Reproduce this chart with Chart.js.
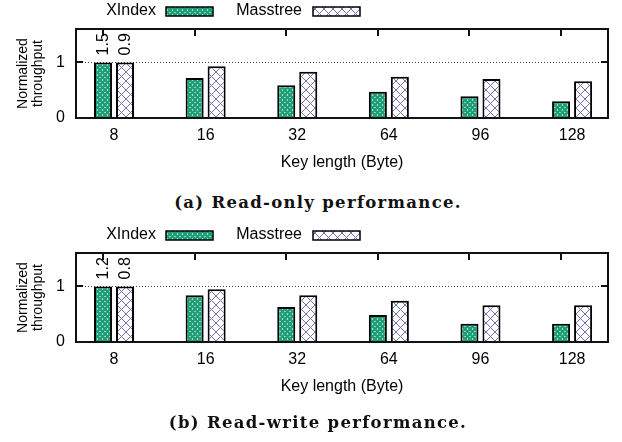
<!DOCTYPE html>
<html><head><meta charset="utf-8">
<script src="https://cdn.jsdelivr.net/npm/chart.js@4.4.0/dist/chart.umd.min.js"></script>
<style>
html,body{margin:0;padding:0;background:#fff;}
#wrap{position:relative;width:622px;height:442px;overflow:hidden;background:#fff;}
.panel{position:absolute;left:0;width:622px;height:190px;}
.cap{position:absolute;left:0;width:636px;text-align:center;font-family:"DejaVu Serif";font-weight:bold;font-size:16.5px;letter-spacing:1.3px;line-height:24px;color:#111;}
</style></head><body>
<div id="wrap">
 <div class="panel" style="top:0"><canvas id="c1" width="622" height="190"></canvas></div>
 <div class="cap" style="top:191px">(a) Read-only performance.</div>
 <div class="panel" style="top:224px"><canvas id="c2" width="622" height="190"></canvas></div>
 <div class="cap" style="top:411px">(b) Read-write performance.</div>
</div>
<script>
// ---- data ----
const keyLengths = ['8','16','32','64','96','128'];
const seriesNames = ['XIndex','Masstree'];
const readOnlyXIndex   = [1.0, 0.72, 0.59, 0.47, 0.39, 0.30];
const readOnlyMasstree = [1.0, 0.93, 0.83, 0.74, 0.70, 0.66];
const readWriteXIndex   = [1.0, 0.84, 0.63, 0.485, 0.33, 0.33];
const readWriteMasstree = [1.0, 0.95, 0.84, 0.74, 0.66, 0.66];
const readOnlyFirstLabels  = ['1.5','0.9'];
const readWriteFirstLabels = ['1.2','0.8'];
const yTicks = [0, 1];
const xAxisTitle = 'Key length (Byte)';
const yAxisTitle = ['Normalized','throughput'];

const FONT = '"Liberation Sans", Arial, sans-serif';
const GREEN = '#1b9e77', PURPLE = '#7570b3';

function makePattern(color, s, lw){
  const c = document.createElement('canvas');
  c.width = s; c.height = s;
  const g = c.getContext('2d');
  g.fillStyle = '#fff'; g.fillRect(0,0,s,s);
  g.strokeStyle = color; g.lineWidth = lw;
  for (const o of [-s, 0, s]) {
    g.beginPath(); g.moveTo(o,0); g.lineTo(o+s,s); g.stroke();
    g.beginPath(); g.moveTo(o+s,0); g.lineTo(o,s); g.stroke();
  }
  return g.createPattern(c,'repeat');
}
const patGreen = makePattern(GREEN, 5, 2.3);
const patPurple = makePattern(PURPLE, 9, 1);
const patterns = [patGreen, patPurple];

const decor = {
  id: 'decor',
  afterDraw(chart, args, opts) {
    const ctx = chart.ctx;
    const xs = chart.scales.x, y = chart.scales.y;
    const L = xs.left, R = xs.right, T = y.top, B = y.bottom;
    ctx.save();
    ctx.setLineDash([]);
    ctx.fillStyle = '#111111';
    // inward tick marks on left/right at y ticks
    yTicks.forEach(v => {
      const py = Math.round(y.getPixelForValue(v));
      ctx.fillRect(L, py - 1, 7, 2);
      ctx.fillRect(R - 7, py - 1, 7, 2);
    });
    // mirrored top tick marks at first-series bar centres
    chart.getDatasetMeta(0).data.forEach(b => {
      ctx.fillRect(Math.round(b.x) - 1, T, 2, 7);
    });
    // frame
    ctx.fillRect(L - 1, T - 1, R - L + 2, 2);
    ctx.fillRect(L - 1, B - 1, R - L + 2, 2);
    ctx.fillRect(L - 1, T - 1, 2, B - T + 2);
    ctx.fillRect(R - 1, T - 1, 2, B - T + 2);
    // rotated value labels on first group
    ctx.fillStyle = '#000';
    ctx.font = '16px ' + FONT;
    ctx.textAlign = 'left';
    ctx.textBaseline = 'middle';
    opts.labels.forEach((t, d) => {
      const b = chart.getDatasetMeta(d).data[0];
      ctx.save();
      ctx.translate(b.x, b.y - 7);
      ctx.rotate(-Math.PI / 2);
      ctx.fillText(t, 0, 1);
      ctx.restore();
    });
    // legend (text before swatch, gnuplot style)
    const leg = [{textRight:156, sx:166}, {textRight:302, sx:313}];
    leg.forEach((Lg, d) => {
      ctx.textAlign = 'right';
      ctx.fillStyle = '#000';
      ctx.fillText(chart.data.datasets[d].label, Lg.textRight, 11);
      ctx.fillStyle = patterns[d];
      ctx.fillRect(Lg.sx, 7, 47, 9);
      ctx.lineWidth = 1.5;
      ctx.strokeStyle = '#000';
      ctx.strokeRect(Lg.sx, 7, 47, 9);
    });
    ctx.restore();
  }
};

function build(id, xi, ms, labels) {
  const toPts = arr => arr.map((v, i) => ({x: i, y: v}));
  return new Chart(document.getElementById(id), {
    type: 'bar',
    data: {
      datasets: [
        {label: seriesNames[0], data: toPts(xi), backgroundColor: patGreen, borderColor: '#000', borderWidth: 2,
         categoryPercentage: 0.48, barPercentage: 0.82},
        {label: seriesNames[1], data: toPts(ms), backgroundColor: patPurple, borderColor: '#000', borderWidth: 2,
         categoryPercentage: 0.48, barPercentage: 0.82}
      ]
    },
    options: {
      responsive: false,
      animation: false,
      layout: {padding: {left: 0, right: 14, top: 29, bottom: 0}},
      plugins: {legend: {display: false}, tooltip: {enabled: false}, decor: {labels: labels}},
      scales: {
        x: {
          type: 'linear', min: -0.415, max: 5.392, offset: false,
          afterBuildTicks: s => { s.ticks = keyLengths.map((k, i) => ({value: i})); },
          afterFit: s => { s.height = 72; },
          ticks: {callback: v => keyLengths[v] ?? '', color: '#000', font: {family: FONT, size: 16}, padding: 8, maxRotation: 0, autoSkip: false},
          grid: {display: false, drawTicks: false, offset: false},
          border: {display: false},
          title: {display: true, text: xAxisTitle, color: '#000', font: {family: FONT, size: 16, lineHeight: 1.2}, padding: {top: 0, bottom: 18}}
        },
        y: {
          min: 0, max: 1.6,
          afterBuildTicks: s => { s.ticks = yTicks.map(v => ({value: v})); },
          afterFit: s => { s.width = 76; },
          ticks: {color: '#000', font: {family: FONT, size: 16}, padding: 11},
          grid: {drawTicks: false, color: c => c.tick && c.tick.value === 1 ? '#444' : 'rgba(0,0,0,0)', lineWidth: 1},
          border: {display: false, dash: [1, 2]},
          title: {display: true, text: yAxisTitle, color: '#000', font: {family: FONT, size: 14, lineHeight: 1.07}, padding: {top: 15.5, bottom: 0}}
        }
      }
    },
    plugins: [decor]
  });
}
build('c1', readOnlyXIndex, readOnlyMasstree, readOnlyFirstLabels);
build('c2', readWriteXIndex, readWriteMasstree, readWriteFirstLabels);
</script>
</body></html>
